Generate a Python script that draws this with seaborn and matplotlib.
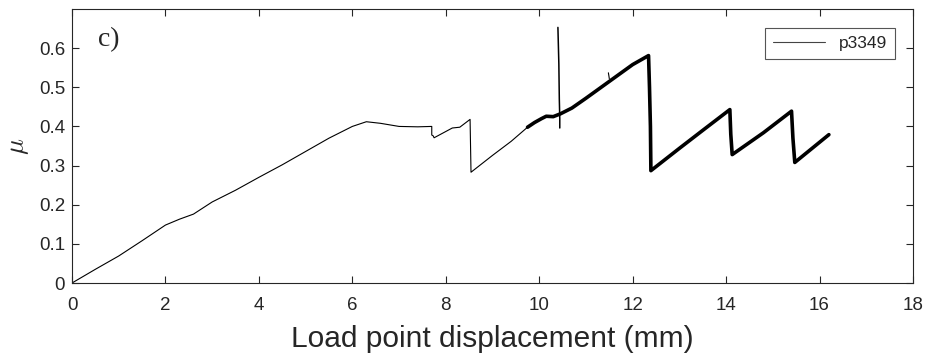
import numpy as np
import pandas as pd
import seaborn as sns
import matplotlib
matplotlib.use("Agg")
import matplotlib.pyplot as plt

# early, thin part of the p3349 friction curve (displacement mm, mu)
thin_x = [0.0, 0.5, 1.0, 1.5, 2.0, 2.3, 2.6, 3.0, 3.5, 4.0, 4.5, 5.0, 5.5, 6.0,
          6.3, 6.6, 7.0, 7.4, 7.70, 7.70, 7.73, 7.75, 8.14, 8.30, 8.52, 8.54,
          9.0, 9.4, 9.75]
thin_y = [0.0, 0.035, 0.069, 0.108, 0.148, 0.163, 0.176, 0.207, 0.237, 0.270,
          0.302, 0.336, 0.370, 0.400, 0.412, 0.408, 0.400, 0.399, 0.400, 0.378,
          0.376, 0.371, 0.396, 0.398, 0.418, 0.283, 0.326, 0.362, 0.398]

# later, thick part (stick-slip)
thick_x = [9.75, 9.90, 10.05, 10.15, 10.30, 10.45, 10.70, 11.0, 11.5, 12.0,
           12.34, 12.36, 12.38, 12.39, 13.0, 13.5, 14.08, 14.10, 14.13, 14.8,
           15.40, 15.43, 15.47, 16.2]
thick_y = [0.398, 0.410, 0.420, 0.426, 0.425, 0.432, 0.447, 0.472, 0.515, 0.558,
           0.581, 0.50, 0.40, 0.287, 0.344, 0.390, 0.443, 0.38, 0.328, 0.384,
           0.439, 0.37, 0.308, 0.379]

# spike near 10.4 mm and small glitch near 11.5 mm
spike_x = [10.40, 10.42, 10.43, 10.44, 10.44]
spike_y = [0.653, 0.56, 0.47, 0.42, 0.396]
glitch_x = [11.48, 11.49, 11.50]
glitch_y = [0.537, 0.530, 0.522]

sns.set_style("ticks")
plt.rcParams['font.family'] = ['Liberation Sans', 'DejaVu Sans']
plt.rcParams['mathtext.fontset'] = 'cm'

fig = plt.figure(figsize=(9.28, 3.56), dpi=100)
ax = fig.add_axes([72 / 928, 1 - 283 / 356, 841 / 928, 274 / 356])

sns.lineplot(x=thin_x, y=thin_y, sort=False, estimator=None, color='black',
             lw=0.8, ax=ax, label='p3349')
sns.lineplot(x=thick_x, y=thick_y, sort=False, estimator=None, color='black',
             lw=2.6, ax=ax)
sns.lineplot(x=spike_x, y=spike_y, sort=False, estimator=None, color='black',
             lw=1.1, ax=ax)
sns.lineplot(x=glitch_x, y=glitch_y, sort=False, estimator=None, color='black',
             lw=0.8, ax=ax)

ax.set_xlim(0, 18)
ax.set_ylim(0, 0.7)
ax.set_xticks(np.arange(0, 19, 2))
ax.set_yticks(np.arange(0, 0.61, 0.1))
ax.set_yticklabels(['0', '0.1', '0.2', '0.3', '0.4', '0.5', '0.6'])

for s in ax.spines.values():
    s.set_visible(True)
    s.set_color('#262626')
    s.set_linewidth(0.8)
ax.tick_params(direction='in', length=5, width=0.8, color='#262626',
               top=True, right=True, labelsize=13.5, labelcolor='#262626')
ax.tick_params(axis='x', pad=10)
ax.tick_params(axis='y', pad=5)

ax.set_xlabel('Load point displacement (mm)', fontsize=21.5, color='#262626',
              labelpad=8)
ax.set_ylabel(r'$\mu$', fontsize=19, color='#262626')
ax.yaxis.set_label_coords(-0.049, 0.50)

ax.text(0.031, 0.887, 'c)', transform=ax.transAxes, fontsize=20,
        family='Liberation Serif', va='center', ha='left')

leg = ax.legend(loc='upper right', bbox_to_anchor=(0.979, 0.931),
                borderaxespad=0, fancybox=False, framealpha=1,
                edgecolor='#555555', fontsize=12.5, handlelength=3.0,
                borderpad=0.45)
leg.get_frame().set_linewidth(0.8)
for h in leg.get_lines():
    h.set_linewidth(0.8)
    h.set_color('#444444')

fig.savefig('out.png', dpi=100)
